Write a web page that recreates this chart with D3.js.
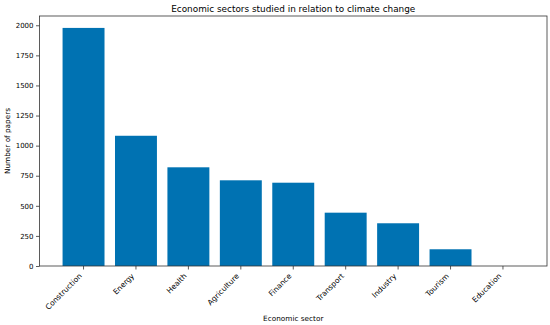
<!DOCTYPE html>
<html>
<head>
<meta charset="utf-8">
<script src="https://cdn.jsdelivr.net/npm/d3@7"></script>
<style>
  body { margin: 0; background: #fff; }
  svg { display: block; font-family: "DejaVu Sans", sans-serif; }
</style>
</head>
<body>
<svg></svg>
<script>
const width = 550;
const height = 325;
const svg = d3.select("svg").attr("width", width).attr("height", height);

const sectors = ["Construction", "Energy", "Health", "Agriculture", "Finance", "Transport", "Industry", "Tourism", "Education"];
const papers = [1978, 1082, 820, 712, 692, 443, 355, 139, 0];
const yTicks = [0, 250, 500, 750, 1000, 1250, 1500, 1750, 2000];

const barColor = "#0072B2";
const margin = { top: 16, right: 3, bottom: 59, left: 39.5 };

const x = d3
  .scaleBand()
  .domain(sectors)
  .range([margin.left, width - margin.right])
  .paddingInner(0.2)
  .paddingOuter(0.44);

const y = d3
  .scaleLinear()
  .domain([0, 2077])
  .range([height - margin.bottom, margin.top]);

// bars
svg
  .append("g")
  .selectAll("rect")
  .data(sectors)
  .enter()
  .append("rect")
  .attr("x", (d) => x(d))
  .attr("y", (d, i) => y(papers[i]))
  .attr("width", x.bandwidth())
  .attr("height", (d, i) => y(0) - y(papers[i]))
  .attr("fill", barColor);

// axes
const xAxis = svg
  .append("g")
  .attr("transform", `translate(0,${height - margin.bottom})`)
  .call(d3.axisBottom(x).tickSize(3.5).tickSizeOuter(0));

// rotated labels, top-right corner hanging under the tick
xAxis
  .selectAll("text")
  .attr("font-size", "7.5px")
  .attr("font-family", "DejaVu Sans")
  .attr("fill", "#000")
  .attr("text-anchor", "end")
  .attr("x", 0)
  .attr("y", 0)
  .attr("dy", 0)
  .attr("transform", "translate(-1.2,10.5) rotate(-45)");

const yAxis = svg
  .append("g")
  .attr("transform", `translate(${margin.left},0)`)
  .call(
    d3.axisLeft(y).tickValues(yTicks).tickFormat(d3.format("d")).tickSize(3.5).tickPadding(2.5).tickSizeOuter(0)
  );

yAxis
  .selectAll("text")
  .attr("font-size", "7px")
  .attr("font-family", "DejaVu Sans")
  .attr("fill", "#000");

svg.selectAll(".domain").remove();
svg.selectAll(".tick line").attr("stroke", "#333").attr("stroke-width", 0.8);

// frame
svg
  .append("rect")
  .attr("x", margin.left)
  .attr("y", margin.top)
  .attr("width", width - margin.right - margin.left)
  .attr("height", height - margin.bottom - margin.top)
  .attr("fill", "none")
  .attr("stroke", "#333")
  .attr("stroke-width", 0.8);

// labels
svg
  .append("text")
  .attr("x", (margin.left + width - margin.right) / 2)
  .attr("y", 12)
  .attr("text-anchor", "middle")
  .attr("font-size", "8.9px")
  .attr("fill", "#000")
  .text("Economic sectors studied in relation to climate change");

svg
  .append("text")
  .attr("x", (margin.left + width - margin.right) / 2)
  .attr("y", 321)
  .attr("text-anchor", "middle")
  .attr("font-size", "7.3px")
  .attr("fill", "#000")
  .text("Economic sector");

svg
  .append("text")
  .attr("transform", `translate(9.5,${(margin.top + height - margin.bottom) / 2}) rotate(-90)`)
  .attr("text-anchor", "middle")
  .attr("font-size", "7.3px")
  .attr("fill", "#000")
  .text("Number of papers");
</script>
</body>
</html>
